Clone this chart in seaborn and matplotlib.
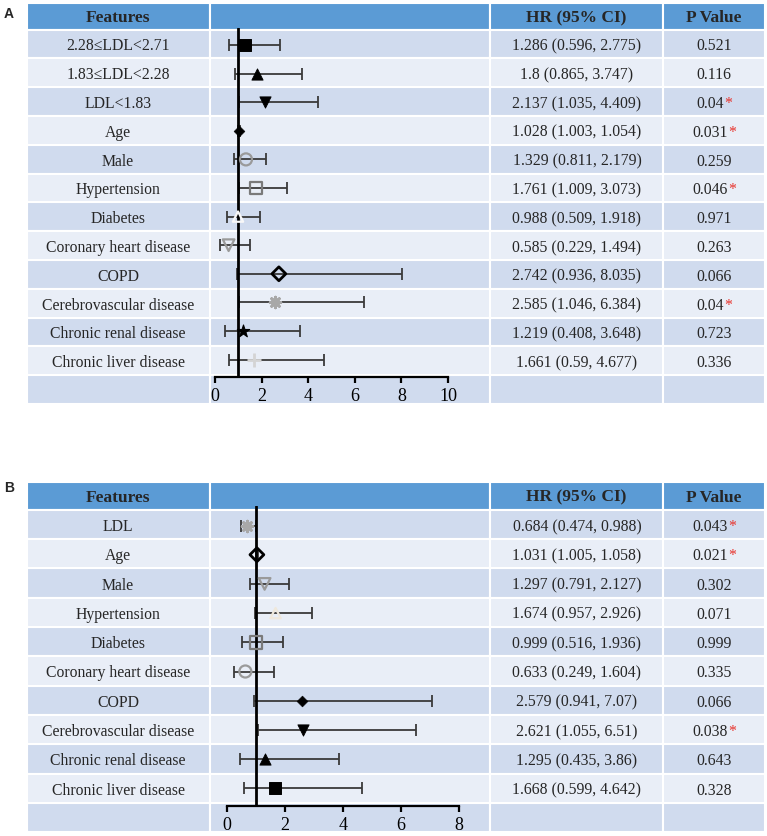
import numpy as np
import pandas as pd
import seaborn as sns
import matplotlib.pyplot as plt
from matplotlib.patches import Rectangle

# ---- panel A data ----
feat_a = ["2.28≤LDL<2.71", "1.83≤LDL<2.28", "LDL<1.83", "Age", "Male", "Hypertension",
          "Diabetes", "Coronary heart disease", "COPD", "Cerebrovascular disease",
          "Chronic renal disease", "Chronic liver disease"]
hr_a = [1.286, 1.8, 2.137, 1.028, 1.329, 1.761, 0.988, 0.585, 2.742, 2.585, 1.219, 1.661]
lo_a = [0.596, 0.865, 1.035, 1.003, 0.811, 1.009, 0.509, 0.229, 0.936, 1.046, 0.408, 0.59]
hi_a = [2.775, 3.747, 4.409, 1.054, 2.179, 3.073, 1.918, 1.494, 8.035, 6.384, 3.648, 4.677]
p_a = ["0.521", "0.116", "0.04", "0.031", "0.259", "0.046", "0.971", "0.263",
       "0.066", "0.04", "0.723", "0.336"]

# ---- panel B data ----
feat_b = ["LDL", "Age", "Male", "Hypertension", "Diabetes", "Coronary heart disease",
          "COPD", "Cerebrovascular disease", "Chronic renal disease", "Chronic liver disease"]
hr_b = [0.684, 1.031, 1.297, 1.674, 0.999, 0.633, 2.579, 2.621, 1.295, 1.668]
lo_b = [0.474, 1.005, 0.791, 0.957, 0.516, 0.249, 0.941, 1.055, 0.435, 0.599]
hi_b = [0.988, 1.058, 2.127, 2.926, 1.936, 1.604, 7.07, 6.51, 3.86, 4.642]
p_b = ["0.043", "0.021", "0.302", "0.071", "0.999", "0.335", "0.066", "0.038", "0.643", "0.328"]

ticks_a = [0, 2, 4, 6, 8, 10]
ticks_b = [0, 2, 4, 6, 8]

# marker styles
STY = {
    "sq": dict(marker="s", s=75, color="black", edgecolor="black"),
    "up": dict(marker="^", s=65, color="black", edgecolor="black"),
    "dn": dict(marker="v", s=65, color="black", edgecolor="black"),
    "dia": dict(marker="D", s=30, color="black", edgecolor="black"),
    "o_gray": dict(marker="o", s=75, color="#9a9a9a", edgecolor="#9a9a9a",
                   facecolor="none", linewidth=1.6),
    "sq_open": dict(marker="s", s=85, color="#7a7a7a", edgecolor="#7a7a7a",
                    facecolor="none", linewidth=1.6),
    "up_white": dict(marker="^", s=55, color="#f8f8f8", edgecolor="#f8f8f8",
                     facecolor="none", linewidth=1.6),
    "up_beige": dict(marker="^", s=55, color="#efe8dc", edgecolor="#efe8dc",
                     facecolor="none", linewidth=1.6),
    "dn_gray": dict(marker="v", s=70, color="#9a9a9a", edgecolor="#9a9a9a",
                    facecolor="none", linewidth=1.6),
    "dia_open": dict(marker="D", s=50, color="black", edgecolor="black",
                     facecolor="none", linewidth=2),
    "ast": dict(marker=(8, 2, 0), s=60, color="#a8a8a8", linewidth=2),
    "star": dict(marker="*", s=90, color="black", edgecolor="black"),
    "plus": dict(marker="+", s=90, color="#d4d4d4", linewidth=2),
}
mk_a = ["sq", "up", "dn", "dia", "o_gray", "sq_open", "up_white", "dn_gray",
        "dia_open", "ast", "star", "plus"]
mk_b = ["ast", "dia_open", "dn_gray", "up_beige", "sq_open", "o_gray",
        "dia", "dn", "up", "sq"]

sns.set_style("white")
plt.rcParams["font.family"] = ["Liberation Serif", "DejaVu Serif"]

W, H = 767, 837
HEAD = "#5b9bd5"
DARK = "#d0dbee"
LIGHT = "#e9eef7"
COLS = [27, 210, 490, 663, 765]

fig = plt.figure(figsize=(W / 100, H / 100), dpi=100)
bg = fig.add_axes([0, 0, 1, 1])
bg.set_xlim(0, W)
bg.set_ylim(H, 0)
bg.axis("off")


def draw_table(top, head_h, row_h, feats, hr, lo, hi, p):
    for j in range(4):
        bg.add_patch(Rectangle((COLS[j], top), COLS[j + 1] - COLS[j], head_h,
                               fc=HEAD, ec="white", lw=1.5))
    yh = top + head_h / 2 + 1
    bg.text(118, yh, "Features", ha="center", va="center", fontsize=12.5, fontweight="bold")
    bg.text(576, yh, "HR (95% CI)", ha="center", va="center", fontsize=12.5, fontweight="bold")
    bg.text(714, yh, "P Value", ha="center", va="center", fontsize=12.5, fontweight="bold")
    n = len(feats) + 1
    for r in range(n):
        y0 = top + head_h + r * row_h
        for j in range(4):
            bg.add_patch(Rectangle((COLS[j], y0), COLS[j + 1] - COLS[j], row_h,
                                   fc=DARK if r % 2 == 0 else LIGHT, ec="white", lw=1.5))
        if r == n - 1:
            continue
        yc = y0 + row_h / 2 + 1.5
        bg.text(118, yc, feats[r], ha="center", va="center", fontsize=11.3)
        bg.text(577, yc, f"{hr[r]} ({lo[r]}, {hi[r]})", ha="center", va="center", fontsize=11.3)
        sig = float(p[r]) < 0.05
        t = bg.text(714 - (3.5 if sig else 0), yc, p[r], ha="center", va="center", fontsize=11.3)
        if sig:
            bg.annotate("*", xy=(1, 0), xycoords=t, ha="left", va="bottom",
                        fontsize=11.3, color="#e8312a")


def draw_forest(x0, x1, y_top, y_axis, c0, rh, xmax, ticks, hr, lo, hi, marks):
    ax = fig.add_axes([x0 / W, 1 - y_axis / H, (x1 - x0) / W, (y_axis - y_top) / H])
    ax.patch.set_alpha(0)
    df = pd.DataFrame({"hr": hr, "lo": lo, "hi": hi, "row": np.arange(len(hr))})
    ax.errorbar(df["hr"], df["row"], xerr=[df["hr"] - df["lo"], df["hi"] - df["hr"]],
                fmt="none", ecolor="#3a3a3a", elinewidth=1.3, capsize=4, capthick=1.3, zorder=1)
    ax.axvline(1, color="black", lw=2, zorder=2)
    for i, m in enumerate(marks):
        sns.scatterplot(data=df.iloc[[i]], x="hr", y="row", ax=ax, zorder=3,
                        legend=False, **STY[m])
    ax.set_xlim(0, xmax)
    ax.set_ylim((y_axis - c0) / rh, (y_top - c0) / rh)
    ax.set_xticks(ticks)
    ax.set_yticks([])
    ax.set_xlabel("")
    ax.set_ylabel("")
    for s in ["top", "left", "right"]:
        ax.spines[s].set_visible(False)
    ax.spines["bottom"].set_linewidth(1.6)
    ax.spines["bottom"].set_color("black")
    ax.tick_params(axis="x", direction="out", length=4, width=1.6, labelsize=13,
                   pad=3, bottom=True, colors="black")
    return ax


draw_table(4, 26.5, 28.8, feat_a, hr_a, lo_a, hi_a, p_a)
draw_forest(215, 448, 29, 378, 46, 28.6, 10, ticks_a, hr_a, lo_a, hi_a, mk_a)

draw_table(482.5, 28.3, 29.3, feat_b, hr_b, lo_b, hi_b, p_b)
draw_forest(227, 459, 507, 807, 526.5, 29.2, 8, ticks_b, hr_b, lo_b, hi_b, mk_b)

fig.text(8.5 / W, 1 - 14 / H, "A", ha="center", va="center", fontsize=10,
         fontweight="bold", family="Liberation Sans")
fig.text(9 / W, 1 - 488 / H, "B", ha="center", va="center", fontsize=10,
         fontweight="bold", family="Liberation Sans")

fig.savefig("out.png", dpi=100)
